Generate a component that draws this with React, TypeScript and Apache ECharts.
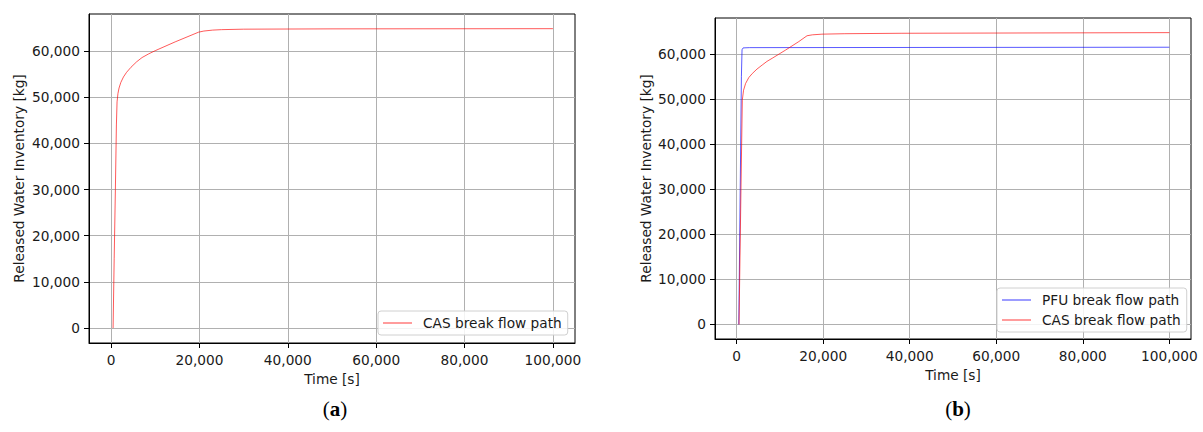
import React, { useEffect, useRef } from "react";
import * as echarts from "echarts";

const xTicks = [0, 20000, 40000, 60000, 80000, 100000];
const yTicks = [0, 10000, 20000, 30000, 40000, 50000, 60000];

// Panel (a): CAS break flow path [time s, released kg]
const casATime = [450, 700, 970, 1200, 1350, 1550, 1800, 2200, 2800, 3500, 4500, 5800, 7000, 8500, 10000, 14500, 19800, 21000, 23000, 25000, 30000, 50000, 100000];
const casAMass = [0, 15000, 30000, 44000, 49000, 50800, 52000, 53200, 54400, 55400, 56500, 57700, 58600, 59400, 60100, 62000, 64100, 64350, 64550, 64650, 64750, 64820, 64860];

// Panel (b): PFU break flow path
const pfuBTime = [500, 1100, 1250, 1500, 3000, 100000];
const pfuBMass = [0, 55000, 61000, 61400, 61460, 61550];

// Panel (b): CAS break flow path
const casBTime = [550, 1000, 1310, 1600, 2070, 2800, 3610, 4700, 5910, 7000, 8220, 11280, 14360, 16270, 17500, 19720, 25000, 38000, 100000];
const casBMass = [0, 30000, 49800, 52000, 53500, 54800, 55700, 56700, 57600, 58400, 59100, 60900, 62800, 64100, 64300, 64450, 64550, 64650, 64790];

const panelLabels = ["a", "b"];

const FF = "DejaVu Sans";
const FS = 13.7;
const TXT = "#1a1a1a";

const pairs = (t: number[], v: number[]) => t.map((x, i) => [x, v[i]]);
const fmt = (v: number) => v.toLocaleString("en-US");

const mkX = (gridIndex: number) => ({
  type: "value",
  gridIndex,
  min: -5000,
  max: 105000,
  name: "Time [s]",
  nameLocation: "middle",
  nameGap: 27,
  nameTextStyle: { fontSize: FS, color: TXT, fontFamily: FF },
  axisLine: { show: true, onZero: false, lineStyle: { color: "#000", width: 1 } },
  axisTick: { show: true, inside: false, length: 5, lineStyle: { color: "#000", width: 1 }, customValues: xTicks },
  axisLabel: { customValues: xTicks, margin: 10, formatter: fmt, fontSize: FS, color: TXT, fontFamily: FF },
  splitLine: { show: true, lineStyle: { color: "#b0b0b0", width: 1 } },
});

const mkY = (gridIndex: number, nameGap: number) => ({
  type: "value",
  gridIndex,
  min: -3240,
  max: 68040,
  name: "Released Water Inventory [kg]",
  nameLocation: "middle",
  nameGap,
  nameTextStyle: { fontSize: FS, color: TXT, fontFamily: FF },
  axisLine: { show: true, onZero: false, lineStyle: { color: "#000", width: 1 } },
  axisTick: { show: true, inside: false, length: 5, lineStyle: { color: "#000", width: 1 }, customValues: yTicks },
  axisLabel: { customValues: yTicks, margin: 9, formatter: fmt, fontSize: FS, color: TXT, fontFamily: FF },
  splitLine: { show: true, lineStyle: { color: "#b0b0b0", width: 1 } },
});

const legendBase = {
  orient: "vertical",
  icon: "rect",
  itemWidth: 29,
  itemHeight: 1.2,
  itemGap: 4,
  padding: [4, 6, 4, 5],
  borderColor: "#d0d0d0",
  borderWidth: 1,
  borderRadius: 3,
  backgroundColor: "rgba(255,255,255,0.85)",
  textStyle: { fontSize: FS, color: TXT, fontFamily: FF, padding: [0, 0, 0, 6], lineHeight: 16 },
};

const labelText = (s: string) => `{n|(}{b|${s}}{n|)}`;
const labelRich = {
  n: { font: "21px 'Liberation Serif'", fill: "#000" },
  b: { font: "bold 21px 'Liberation Serif'", fill: "#000" },
};

export default function App() {
  const ref = useRef<HTMLDivElement>(null);
  useEffect(() => {
    const chart = echarts.init(ref.current!, null, { renderer: "svg" });
    const red = "rgba(255,0,0,0.65)";
    const blue = "rgba(0,0,255,0.65)";
    chart.setOption({
      animation: false,
      grid: [
        { left: 89, top: 14, width: 486, height: 329, show: true, borderColor: "#000", borderWidth: 1, containLabel: false },
        { left: 715, top: 18, width: 476, height: 321, show: true, borderColor: "#000", borderWidth: 1, containLabel: false },
      ],
      xAxis: [mkX(0), mkX(1)],
      yAxis: [mkY(0, 63), mkY(1, 62)],
      legend: [
        { ...legendBase, left: 378, top: 311, data: ["CAS break flow path"] },
        { ...legendBase, left: 997, top: 288, data: ["PFU break flow path", "CAS break flow path"] },
      ],
      series: [
        {
          type: "line", name: "CAS break flow path", xAxisIndex: 0, yAxisIndex: 0,
          data: pairs(casATime, casAMass), showSymbol: false, symbol: "none", smooth: false,
          lineStyle: { color: red, width: 1 }, itemStyle: { color: red },
        },
        {
          type: "line", name: "PFU break flow path", xAxisIndex: 1, yAxisIndex: 1,
          data: pairs(pfuBTime, pfuBMass), showSymbol: false, symbol: "none",
          lineStyle: { color: blue, width: 1 }, itemStyle: { color: blue },
        },
        {
          type: "line", name: "CAS break flow path", xAxisIndex: 1, yAxisIndex: 1,
          data: pairs(casBTime, casBMass), showSymbol: false, symbol: "none",
          lineStyle: { color: red, width: 1 }, itemStyle: { color: red },
        },
      ],
      graphic: [
        {
          type: "text", x: 335, y: 409,
          style: { text: labelText(panelLabels[0]), x: 0, y: 0, align: "center", verticalAlign: "middle", rich: labelRich },
        },
        {
          type: "text", x: 958, y: 409,
          style: { text: labelText(panelLabels[1]), x: 0, y: 0, align: "center", verticalAlign: "middle", rich: labelRich },
        },
      ],
    });
    return () => chart.dispose();
  }, []);
  return <div ref={ref} style={{ position: "absolute", left: 0, top: 0, width: 1203, height: 432 }} />;
}
